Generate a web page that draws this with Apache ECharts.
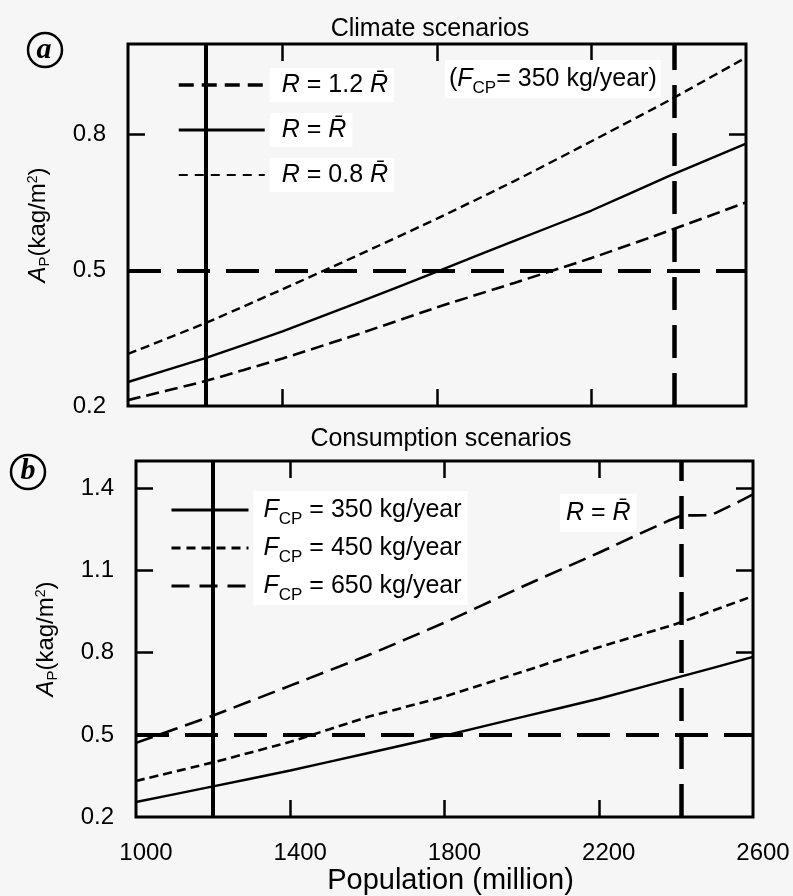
<!DOCTYPE html>
<html><head><meta charset="utf-8">
<script src="https://cdn.jsdelivr.net/npm/echarts@6/dist/echarts.min.js"></script>
<style>html,body{margin:0;padding:0;background:#f6f6f6}#c{width:793px;height:896px}</style>
</head><body><div id="c"></div>
<script>
// ---- data ----
const population = [1000, 1200, 1400, 1600, 1800, 2000, 2200, 2400, 2600];
const climate08 = [0.315, 0.383, 0.458, 0.535, 0.614, 0.697, 0.785, 0.875, 0.970];
const climate10 = [0.253, 0.306, 0.365, 0.430, 0.497, 0.565, 0.632, 0.708, 0.780];
const climate12 = [0.213, 0.255, 0.305, 0.360, 0.418, 0.472, 0.527, 0.587, 0.650];
const cons350 = [0.255, 0.312, 0.370, 0.433, 0.497, 0.565, 0.632, 0.708, 0.785];
const cons450 = [0.332, 0.400, 0.475, 0.565, 0.640, 0.730, 0.820, 0.905, 1.007];
const population650 = [1000, 1200, 1400, 1600, 1800, 2000, 2200, 2415, 2490, 2600];
const cons650 = [0.471, 0.571, 0.680, 0.790, 0.910, 1.040, 1.165, 1.300, 1.303, 1.378];
const threshold = 0.5;
const popCurrent = 1200;
const popFuture = 2415;
const xTickLabels = [1000, 1400, 1800, 2200, 2600];
const xTickMarks = [1400, 1800, 2200];
const yTickLabelsA = [0.2, 0.5, 0.8];
const yTickMarksA = [0.5, 0.8];
const yTickLabelsB = [0.2, 0.5, 0.8, 1.1, 1.4];
const yTickMarksB = [0.5, 0.8, 1.1, 1.4];
const namesA = ['R = 1.2 R\u0304', 'R = R\u0304', 'R = 0.8 R\u0304'];
const namesB = ['F_CP = 350 kg/year', 'F_CP = 450 kg/year', 'F_CP = 650 kg/year'];

const FONT = '"Liberation Sans", Arial, sans-serif';
const BLACK = '#000';
const pairs = (xs, ys) => xs.map((x, i) => [x, ys[i]]);

const chart = echarts.init(document.getElementById('c'), null, {renderer: 'canvas'});

function xAx(grid, pos, withLabels) {
  const ax = {
    type: 'value', gridIndex: grid, position: pos, min: 1000, max: 2600,
    axisLine: {show: false}, splitLine: {show: false},
    axisTick: {show: true, inside: true, length: 17, customValues: xTickMarks,
      lineStyle: {color: BLACK, width: 2.5}},
    axisLabel: {show: false}
  };
  if (withLabels) {
    ax.axisLabel = {show: true, customValues: xTickLabels, fontSize: 24, color: BLACK,
      fontFamily: FONT, margin: 24, padding: [0, 0, 0, 20], formatter: v => String(v)};
    ax.name = 'Population (million)';
    ax.nameLocation = 'middle';
    ax.nameGap = 46;
    ax.nameTextStyle = {fontSize: 29, color: BLACK, fontFamily: FONT, padding: [0, 0, 0, 12]};
  }
  return ax;
}
const axisNameRich = {
  i: {fontStyle: 'italic', fontSize: 24, fontFamily: FONT, color: BLACK},
  n: {fontSize: 24, fontFamily: FONT, color: BLACK},
  sub: {fontSize: 15, fontFamily: FONT, color: BLACK, padding: [12, 0, 0, 0]},
  sup: {fontSize: 14, fontFamily: FONT, color: BLACK, padding: [0, 0, 10, 0]}
};
function yAx(grid, pos, min, max, labels, marks, withLabels) {
  const ax = {
    type: 'value', gridIndex: grid, position: pos, min: min, max: max,
    axisLine: {show: false}, splitLine: {show: false},
    axisTick: {show: true, inside: true, length: 17, customValues: marks,
      lineStyle: {color: BLACK, width: 2.5}},
    axisLabel: {show: false}
  };
  if (withLabels) {
    ax.axisLabel = {show: true, customValues: labels, fontSize: 24, color: BLACK,
      fontFamily: FONT, margin: 22, padding: [10, 0, 0, 0],
      formatter: v => v.toFixed(1)};
    ax.name = '{i|A}{sub|P}{n|(kag/m}{sup|2}{n|)}';
    ax.nameLocation = 'middle';
    ax.nameRotate = 90;
    ax.nameGap = 76;
    ax.nameTextStyle = {rich: axisNameRich};
  }
  return ax;
}

function curve(name, xs, ys, dash, width) {
  return {
    type: 'line', name: name,
    data: pairs(xs, ys), symbol: 'none', showSymbol: false, smooth: 0.12,
    itemStyle: {color: BLACK},
    lineStyle: {color: BLACK, width: width, type: dash},
    z: 3
  };
}
function refLines() {
  return {
    silent: true, symbol: 'none', label: {show: false}, animation: false,
    data: [
      {xAxis: popCurrent, lineStyle: {color: BLACK, width: 4, type: 'solid'}},
      {xAxis: popFuture, lineStyle: {color: BLACK, width: 4.5, type: [33, 15]}},
      {yAxis: threshold, lineStyle: {color: BLACK, width: 4, type: [33, 16]}}
    ]
  };
}

// axis indices: xAxis 0(bottom A),1(top A),2(bottom B),3(top B); yAxis 0(left A),1(right A),2(left B),3(right B)
const sA = [
  curve(namesA[0], population, climate12, [13, 6], 2.6),
  curve(namesA[1], population, climate10, 'solid', 2.4),
  curve(namesA[2], population, climate08, [9, 5], 2.4)
];
sA.forEach(s => { s.xAxisIndex = 0; s.yAxisIndex = 0; });
sA[1].markLine = refLines();
const sB = [
  curve(namesB[0], population, cons350, 'solid', 2.4),
  curve(namesB[1], population, cons450, [9, 5], 2.6),
  curve(namesB[2], population650, cons650, [18, 8], 2.6)
];
sB.forEach(s => { s.xAxisIndex = 2; s.yAxisIndex = 2; });
sB[0].markLine = refLines();

const richA = {
  t: {fontSize: 25, fontFamily: FONT, color: BLACK, lineHeight: 34},
  i: {fontSize: 25, fontFamily: FONT, color: BLACK, fontStyle: 'italic', lineHeight: 34}
};
const richB = {
  t: {fontSize: 25, fontFamily: FONT, color: BLACK, lineHeight: 38},
  i: {fontSize: 25, fontFamily: FONT, color: BLACK, fontStyle: 'italic', lineHeight: 38},
  sub: {fontSize: 17, fontFamily: FONT, color: BLACK, lineHeight: 17, padding: [19, 0, 0, 0]}
};
function fmtA(name) {
  const m = name.match(/^R = (.*)R\u0304$/);
  return '{i|R}{t| = ' + m[1] + '}{i|R\u0304}';
}
function fmtB(name) {
  return '{i|F}{sub|CP}{t| = ' + name.slice(7) + '}';
}
const letterFont = 'italic bold 30px "Liberation Serif", "DejaVu Serif", serif';
const legendLines = {
  [namesA[0]]: {width: 3.5, type: [15, 8]},
  [namesA[1]]: {width: 3, type: 'solid'},
  [namesA[2]]: {width: 2, type: [9, 7]},
  [namesB[0]]: {width: 3, type: 'solid'},
  [namesB[1]]: {width: 3, type: [9, 6]},
  [namesB[2]]: {width: 3, type: [18, 10]}
};
const legendData = names => names.map(n => ({name: n, lineStyle: Object.assign({color: BLACK}, legendLines[n])}));

const option = {
  animation: false,
  backgroundColor: '#f6f6f6',
  title: [
    {text: 'Climate scenarios', left: 425, top: 12, textAlign: 'center',
      textStyle: {fontSize: 25, fontWeight: 'normal', color: BLACK, fontFamily: FONT}},
    {text: 'Consumption scenarios', left: 436, top: 422, textAlign: 'center',
      textStyle: {fontSize: 25, fontWeight: 'normal', color: BLACK, fontFamily: FONT}}
  ],
  grid: [
    {left: 128, top: 44, width: 618, height: 362, show: true, borderColor: BLACK, borderWidth: 3, backgroundColor: 'transparent'},
    {left: 136, top: 461, width: 617, height: 361, show: true, borderColor: BLACK, borderWidth: 3, backgroundColor: 'transparent'}
  ],
  xAxis: [xAx(0, 'bottom', false), xAx(0, 'top', false), xAx(1, 'bottom', true), xAx(1, 'top', false)],
  yAxis: [
    yAx(0, 'left', 0.2, 1.0, yTickLabelsA, yTickMarksA, true),
    yAx(0, 'right', 0.2, 1.0, yTickLabelsA, yTickMarksA, false),
    yAx(1, 'left', 0.2, 1.5, yTickLabelsB, yTickMarksB, true),
    yAx(1, 'right', 0.2, 1.5, yTickLabelsB, yTickMarksB, false)
  ],
  legend: [
    {orient: 'vertical', left: 172, top: 63, itemWidth: 86, itemHeight: 14, itemGap: 11,
      data: legendData(namesA), formatter: fmtA, selectedMode: false, z: 1,
      itemStyle: {opacity: 0},
      textStyle: {rich: richA, backgroundColor: '#fff', padding: [0, 6, 0, 12]}},
    {orient: 'vertical', left: 165, top: 486, itemWidth: 77, itemHeight: 14, itemGap: 0,
      data: legendData(namesB), formatter: fmtB, selectedMode: false, z: 1,
      itemStyle: {opacity: 0},
      textStyle: {rich: richB, backgroundColor: '#fff', padding: [0, 6, 0, 10]}}
  ],
  graphic: [
    {type: 'circle', x: 45, y: 50, shape: {cx: 0, cy: 0, r: 17}, style: {fill: 'none', stroke: BLACK, lineWidth: 2.5}},
    {type: 'text', x: 44, y: 50, style: {text: 'a', align: 'center', verticalAlign: 'middle', font: letterFont, fill: BLACK}},
    {type: 'circle', x: 28, y: 472, shape: {cx: 0, cy: 0, r: 17}, style: {fill: 'none', stroke: BLACK, lineWidth: 2.5}},
    {type: 'text', x: 28, y: 471, style: {text: 'b', align: 'center', verticalAlign: 'middle', font: letterFont, fill: BLACK}},
    {type: 'text', left: 445, top: 60, z: 5, style: {
      text: '{t|(}{i|F}{sub|CP}{t|= 350 kg/year)}', rich: richB, backgroundColor: '#fff', padding: [0, 4, 0, 4]}},
    {type: 'text', left: 560, top: 494, z: 5, style: {
      text: '{i|R}{t| = }{i|R\u0304}', rich: richB, backgroundColor: '#fff', padding: [0, 6, 0, 6]}}
  ],
  series: sA.concat(sB)
};
chart.setOption(option);
</script>
</body></html>
